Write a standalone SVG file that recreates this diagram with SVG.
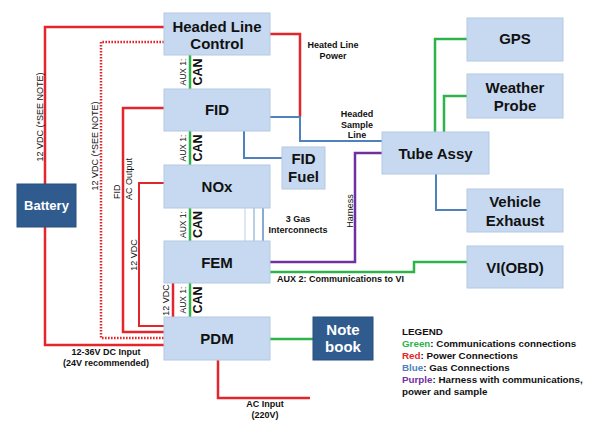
<svg xmlns="http://www.w3.org/2000/svg" width="596" height="430" viewBox="0 0 596 430">
<style>
.box{fill:#c6d9f1;stroke:#b4c9e4;stroke-width:1}
.dark{fill:#2f5b8e;stroke:#27507e;stroke-width:1}
.t{font-family:"Liberation Sans",Arial,sans-serif;font-weight:bold;font-size:15px;fill:#111;text-anchor:middle}
.tw{font-family:"Liberation Sans",Arial,sans-serif;font-weight:bold;font-size:15px;fill:#fff;text-anchor:middle}
.s{font-family:"Liberation Sans",Arial,sans-serif;font-weight:bold;font-size:9px;fill:#111;text-anchor:middle}
.sr{font-family:"Liberation Sans",Arial,sans-serif;font-size:9px;fill:#111;text-anchor:middle}
.aux{font-family:"Liberation Sans",Arial,sans-serif;font-size:8.5px;fill:#111;text-anchor:middle}
.can{font-family:"Liberation Sans",Arial,sans-serif;font-weight:bold;font-size:12.5px;fill:#111;text-anchor:middle}
.lg{font-family:"Liberation Sans",Arial,sans-serif;font-weight:bold;font-size:9.8px;fill:#111}
.red{fill:none;stroke:#e3262b;stroke-width:2.5}
.redd{fill:none;stroke:#e3262b;stroke-width:2.5;stroke-dasharray:1.6 1.4}
.blue{fill:none;stroke:#4f81bd;stroke-width:2}
.gas{fill:none;stroke-width:1.6}
.green{fill:none;stroke:#2db34a;stroke-width:2.5}
.purple{fill:none;stroke:#7030a0;stroke-width:2.5}
</style>
<rect width="596" height="430" fill="#fff"/>
<g id="connectors">
<path class="red" d="M164,27 H45 V345 H164"/>
<path class="redd" d="M164,42 H101 V338 H164"/>
<path class="red" d="M164,108 H123 V332 H164"/>
<path class="red" style="stroke-width:2" d="M164,183 H139 V326 H164"/>
<path class="red" d="M173,283 V317"/>
<path class="red" d="M270,34 H300 V117"/>
<path class="red" d="M218,360 V398 H310"/>
<path class="blue" d="M270,117 H300 V141 H382"/>
<path class="blue" d="M244,131 V158 H282"/>
<path class="blue" d="M436,174 V210 H467"/>
<path class="gas" style="stroke:#d5e2f2" d="M245,208 V241"/>
<path class="gas" style="stroke:#a9c2e2" d="M254,208 V241"/>
<path class="gas" style="stroke:#6a95c9" d="M263,208 V241"/>
<path class="green" d="M190,55 V89 M190,131 V165 M190,208 V241 M190,283 V317"/>
<path class="green" d="M467,39 H435 V132"/>
<path class="green" d="M467,96 H444 V132"/>
<path class="green" d="M270,272 H414 V262 H467"/>
<path class="green" d="M270,339 H313"/>
<path class="purple" d="M382,153 H355 V262 H270"/>
</g>
<g id="labels">
<text class="sr" transform="translate(43,117) rotate(-90)">12 VDC (*SEE NOTE)</text>
<text class="sr" transform="translate(98,146) rotate(-90)">12 VDC (*SEE NOTE)</text>
<text class="sr" style="text-anchor:start" transform="translate(120,199) rotate(-90)">FID</text>
<text class="sr" style="text-anchor:start" transform="translate(132,200) rotate(-90)">AC Output</text>
<text class="sr" transform="translate(137,255) rotate(-90)">12 VDC</text>
<text class="sr" transform="translate(169,300) rotate(-90)">12 VDC</text>
<text class="aux" transform="translate(186,72) rotate(-90)">AUX 1:</text>
<text class="can" transform="translate(202,72) rotate(-90)">CAN</text>
<text class="aux" transform="translate(186,148) rotate(-90)">AUX 1:</text>
<text class="can" transform="translate(202,148) rotate(-90)">CAN</text>
<text class="aux" transform="translate(186,224.5) rotate(-90)">AUX 1:</text>
<text class="can" transform="translate(202,224.5) rotate(-90)">CAN</text>
<text class="aux" transform="translate(186,300) rotate(-90)">AUX 1:</text>
<text class="can" transform="translate(202,300) rotate(-90)">CAN</text>
<text class="s" x="333" y="48">Heated Line</text>
<text class="s" x="333" y="59">Power</text>
<text class="s" x="357" y="117">Headed</text>
<text class="s" x="357" y="127.5">Sample</text>
<text class="s" x="357" y="138">Line</text>
<text class="s" x="298" y="222">3 Gas</text>
<text class="s" x="298" y="233">Interconnects</text>
<text class="sr" transform="translate(353,211) rotate(-90)">Harness</text>
<text class="s" x="277" y="282" style="text-anchor:start">AUX 2: Communications to VI</text>
<text class="s" x="106" y="355">12-36V DC Input</text>
<text class="s" x="106" y="366">(24V recommended)</text>
<text class="s" x="265" y="407">AC Input</text>
<text class="s" x="265" y="418">(220V)</text>
</g>
<g id="hlc"><rect class="box" x="164" y="13" width="106" height="42"/><text class="t" x="217" y="32">Headed Line</text><text class="t" x="217" y="49">Control</text></g>
<g id="fid"><rect class="box" x="164" y="89" width="106" height="42"/><text class="t" x="217" y="115">FID</text></g>
<g id="nox"><rect class="box" x="164" y="165" width="106" height="43"/><text class="t" x="217" y="192">NOx</text></g>
<g id="fem"><rect class="box" x="164" y="241" width="106" height="42"/><text class="t" x="217" y="268">FEM</text></g>
<g id="pdm"><rect class="box" x="164" y="317" width="106" height="43"/><text class="t" x="217" y="344">PDM</text></g>
<g id="battery"><rect class="dark" x="17" y="184" width="59" height="43"/><text class="tw" style="font-size:13px" x="46.5" y="210">Battery</text></g>
<g id="fidfuel"><rect class="box" x="282" y="147" width="43" height="42"/><text class="t" x="303.5" y="164">FID</text><text class="t" x="303.5" y="182">Fuel</text></g>
<g id="tube"><rect class="box" x="382" y="132" width="107" height="42"/><text class="t" x="435.5" y="159">Tube Assy</text></g>
<g id="gps"><rect class="box" x="467" y="18" width="96" height="43"/><text class="t" x="515" y="44">GPS</text></g>
<g id="weather"><rect class="box" x="467" y="74" width="96" height="44"/><text class="t" x="515" y="93">Weather</text><text class="t" x="515" y="111">Probe</text></g>
<g id="exhaust"><rect class="box" x="467" y="189" width="96" height="43"/><text class="t" x="515" y="207">Vehicle</text><text class="t" x="515" y="226">Exhaust</text></g>
<g id="vi"><rect class="box" x="467" y="246" width="96" height="42"/><text class="t" x="515" y="273">VI(OBD)</text></g>
<g id="notebook"><rect class="dark" x="313" y="317" width="60" height="43"/><text class="tw" x="343" y="335">Note</text><text class="tw" x="343" y="352">book</text></g>
<g id="legend">
<text class="lg" x="402" y="335">LEGEND</text>
<text class="lg" x="402" y="347"><tspan fill="#2db34a">Green</tspan>: Communications connections</text>
<text class="lg" x="402" y="359"><tspan fill="#e3262b">Red</tspan>: Power Connections</text>
<text class="lg" x="402" y="371"><tspan fill="#4f81bd">Blue</tspan>: Gas Connections</text>
<text class="lg" x="402" y="383"><tspan fill="#7030a0">Purple</tspan>: Harness with communications,</text>
<text class="lg" x="402" y="395">power and sample</text>
</g>
</svg>
